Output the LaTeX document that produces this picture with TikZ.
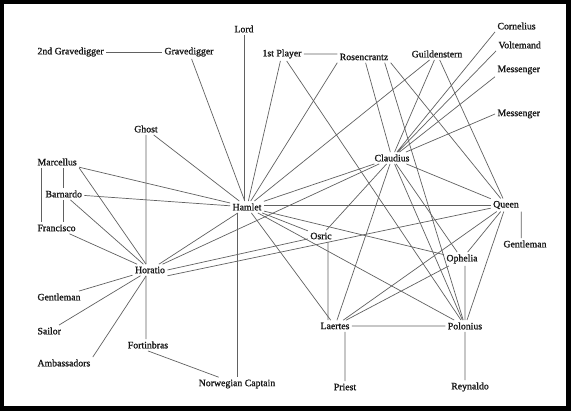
\documentclass[tikz,border=0pt]{standalone}
\usepackage{fontspec}
\setmainfont{Liberation Serif}[BoldFont={Liberation Serif},BoldFeatures={FakeBold=1.3}]
\tikzset{
  who/.style={inner sep=2.5pt,outer sep=0pt,text=black!90},
  tie/.style={draw=black!62,line width=0.7pt}
}
\begin{document}
\begin{tikzpicture}[x=1pt,y=-1pt,font=\fontsize{9.8}{11}\selectfont\bfseries]
  \useasboundingbox (0,0) rectangle (571,411);
  \fill[black] (0,0) rectangle (571,411);
  \fill[white] (3.5,4) rectangle (566,406);

  \node[who,anchor=west] (gd2) at (35,52) {2nd Gravedigger};
  \node[who] (gd) at (189,52) {Gravedigger};
  \node[who] (lord) at (244,29) {Lord};
  \node[who] (player) at (282,54) {1st Player};
  \node[who] (ros) at (364,57) {Rosencrantz};
  \node[who] (guil) at (437,54) {Guildenstern};
  \node[who,anchor=west] (corn) at (495,26) {Cornelius};
  \node[who,anchor=west] (volt) at (496,45) {Voltemand};
  \node[who,anchor=west] (mess) at (495,70) {Messenger};
  \node[who,anchor=west] (messb) at (495,114) {Messenger};
  \node[who] (ghost) at (146,129) {Ghost};
  \node[who] (claud) at (392,158) {Claudius};
  \node[who,anchor=west] (marc) at (35,162) {Marcellus};
  \node[who,anchor=west] (barn) at (43,194) {Barnardo};
  \node[who] (ham) at (247,207) {Hamlet};
  \node[who] (queen) at (506,205) {Queen};
  \node[who,anchor=west] (fran) at (35,228) {Francisco};
  \node[who] (osric) at (321,236) {Osric};
  \node[who,anchor=west] (gentq) at (501,244) {Gentleman};
  \node[who] (oph) at (462,259) {Ophelia};
  \node[who] (hor) at (150,270) {Horatio};
  \node[who,anchor=west] (genth) at (35,297) {Gentleman};
  \node[who,anchor=west] (sailor) at (35,331) {Sailor};
  \node[who] (laer) at (335,326) {Laertes};
  \node[who] (pol) at (465,326) {Polonius};
  \node[who] (fort) at (148,345) {Fortinbras};
  \node[who,anchor=west] (amb) at (35,363) {Ambassadors};
  \node[who] (capt) at (237,384) {Norwegian Captain};
  \node[who] (priest) at (345,387) {Priest};
  \node[who] (rey) at (470,387) {Reynaldo};

  \draw[tie] (gd2) -- (gd) (lord) -- (lord |- ham.north);
  \draw[tie] (gd) -- (ham) (player) -- (ham) (ros.south west) -- (ham) (guil) -- (ham)
    (ghost) -- (ham) (marc) -- (ham) (barn) -- (ham) (hor) -- (ham) (claud) -- (ham)
    (osric) -- (ham) (oph) -- (ham) (pol) -- (ham) (laer) -- (ham);
  \draw[tie] (ham.east |- queen.west) -- (queen.west) (capt.north |- ham.south) -- (capt.north);
  \draw[tie] (player.east) -- (player.east -| ros.west) (player) -- (pol);
  \draw[tie] (ros) -- (claud) ([xshift=-6]ros.south east) -- (pol) (ros.south east) -- (queen);
  \draw[tie] (guil) -- (claud) (guil) -- (queen);
  \draw[tie] (corn.south west) -- (claud) (volt.south west) -- (claud)
    (mess.south west) -- (claud) (messb.west) -- (claud);
  \draw[tie] (claud) -- (queen) (claud) -- (osric) (claud) -- (laer) (claud) -- (oph)
    (claud) -- (pol) (claud) -- (hor);
  \draw[tie] (queen.south east) -- (queen.south east |- gentq.north) (queen) -- (oph)
    (queen) -- (pol) (queen) -- (laer) (hor.south east) -- (queen);
  \draw[tie] (hor.east) -- (osric) (ghost.south) -- (ghost.south |- hor.north)
    (ghost.south |- hor.south) -- (ghost.south |- fort.north);
  \draw[tie] (marc.south east) -- (hor) (barn) -- (hor) (fran) -- (hor) (genth) -- (hor)
    (sailor) -- (hor) (amb.north east) -- (hor);
  \draw[tie] ([xshift=6]marc.south west) -- ([xshift=6]fran.north west)
    (barn.north) -- (barn.north |- marc.south) (barn.south) -- (barn.south |- fran.north);
  \draw[tie] (fort.south) -- (capt)
    ([xshift=10]laer.north west |- osric.south) -- ([xshift=10]laer.north west)
    (pol.north |- oph.south) -- (pol.north) (oph) -- (laer) (laer) -- (pol)
    (priest.north) -- (priest.north |- laer.south) (pol.south) -- (pol.south |- rey.north);
\end{tikzpicture}
\end{document}
